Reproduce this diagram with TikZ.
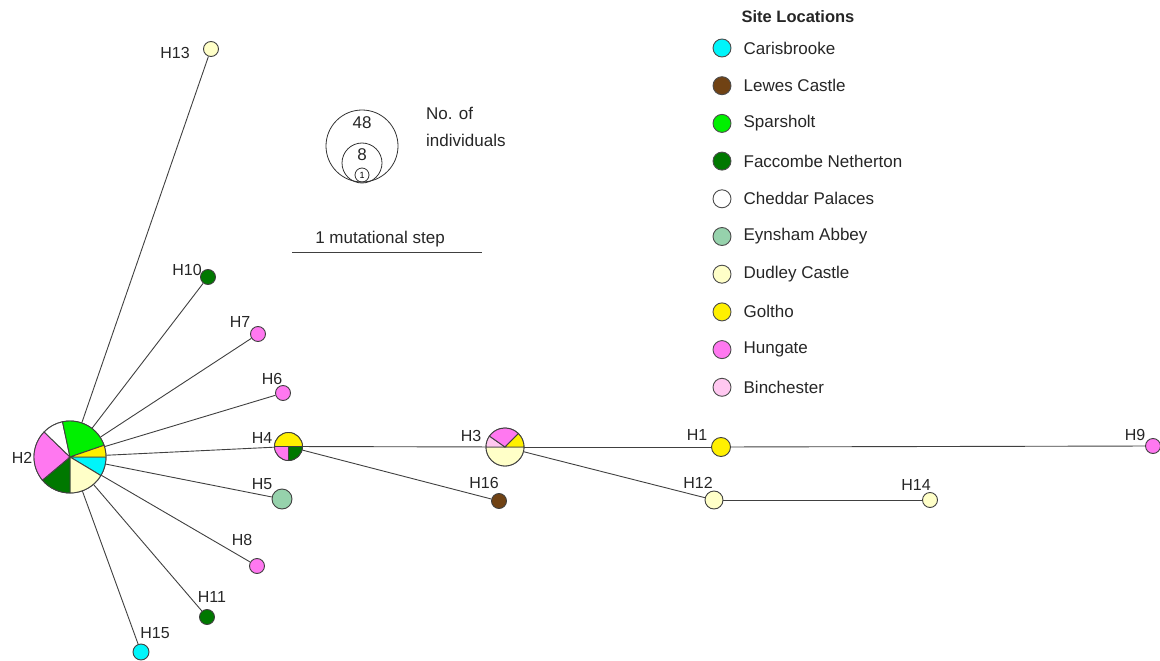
\documentclass[tikz,border=0pt]{standalone}
\usepackage{fontspec}
\setmainfont{Liberation Sans}
\usetikzlibrary{positioning}
\definecolor{carisc}{RGB}{0,245,250}
\definecolor{lewesc}{RGB}{112,66,20}
\definecolor{sparsc}{RGB}{0,240,0}
\definecolor{faccc}{RGB}{0,120,0}
\definecolor{chedc}{RGB}{255,255,255}
\definecolor{eynsc}{RGB}{150,210,172}
\definecolor{dudc}{RGB}{255,255,200}
\definecolor{goltc}{RGB}{255,240,0}
\definecolor{hungc}{RGB}{255,120,240}
\definecolor{binc}{RGB}{255,200,240}
\tikzset{
  hap/.style={circle, draw=black!75, line width=0.9pt, inner sep=0pt, minimum size=15pt},
  hapmid/.style={hap, minimum size=19pt},
  hlbl/.style={font=\fontsize{16}{19}\selectfont, text=black!85, inner sep=0pt},
  txt/.style={font=\fontsize{17}{20}\selectfont, text=black!85, inner sep=0pt},
  link/.style={line width=0.9pt, black!75},
  slice/.style={draw=black!75, line width=0.9pt},
  key/.style={circle, draw=black!70, line width=0.9pt, minimum size=18pt, inner sep=0pt},
  keylbl/.style={txt, anchor=west},
  sizering/.style={circle, draw=black!80, line width=0.8pt, inner sep=0pt}
}
% one slice of a pie: centre, start, end, radius, colour
\newcommand{\pieslice}[5]{%
  \filldraw[slice, fill=#5] (#1.center) -- ++(#2:#4) arc[start angle=#2, end angle=#3, radius=#4] -- cycle;}
\begin{document}
\begin{tikzpicture}[x=1pt, y=1pt]
\useasboundingbox (0,0) rectangle (1160,-661);

% haplotypes
\node[hap, minimum size=72pt] (H2) at (70,-457) {};
\node[hap, minimum size=28pt] (H4) at (288.5,-446.5) {};
\node[hap, minimum size=38pt] (H3) at (505,-447) {};
\node[hap, fill=dudc] (H13) at (211,-49) {};
\node[hap, fill=faccc] (H10) at (208,-277) {};
\node[hap, fill=hungc] (H7) at (258,-334) {};
\node[hap, fill=hungc] (H6) at (283,-393) {};
\node[hap, fill=eynsc, minimum size=20pt] (H5) at (282,-499) {};
\node[hap, fill=hungc] (H8) at (257,-566) {};
\node[hap, fill=faccc] (H11) at (207,-617) {};
\node[hap, fill=carisc, minimum size=16pt] (H15) at (141,-652) {};
\node[hap, fill=lewesc] (H16) at (499,-501) {};
\node[hapmid, fill=goltc] (H1) at (721,-447) {};
\node[hapmid, fill=dudc, minimum size=18pt] (H12) at (714,-500) {};
\node[hap, fill=dudc] (H14) at (930,-500) {};
\node[hap, fill=hungc] (H9) at (1153,-446) {};

% links
\foreach \h in {H13,H10,H7,H6,H4,H5,H8,H11,H15}
  \draw[link] (H2) -- (\h);
\draw[link] (H4) -- (H3);
\draw[link] (H4) -- (H16);
\draw[link] (H3) -- (H1);
\draw[link] (H3) -- (H12);
\draw[link] (H1) -- (H9);
\draw[link] (H12) -- (H14);

% pies
\pieslice{H2}{-31}{0}{36pt}{carisc}
\pieslice{H2}{-90}{-31}{36pt}{dudc}
\pieslice{H2}{-140}{-90}{36pt}{faccc}
\pieslice{H2}{136}{220}{36pt}{hungc}
\pieslice{H2}{102}{136}{36pt}{chedc}
\pieslice{H2}{19}{102}{36pt}{sparsc}
\pieslice{H2}{0}{19}{36pt}{goltc}
\pieslice{H4}{0}{180}{14pt}{goltc}
\pieslice{H4}{180}{270}{14pt}{hungc}
\pieslice{H4}{270}{360}{14pt}{faccc}
\pieslice{H3}{180}{360}{19pt}{dudc}
\pieslice{H3}{145}{180}{19pt}{binc}
\pieslice{H3}{45}{145}{19pt}{hungc}
\pieslice{H3}{0}{45}{19pt}{goltc}

% haplotype names
\node[hlbl] (tH2) at (22,-458) {H2};
\node[hlbl] (tH13) at (175,-53) {H13};
\node[hlbl] (tH10) at (187,-270) {H10};
\node[hlbl] (tH7) at (240,-322) {H7};
\node[hlbl] (tH6) at (272,-379) {H6};
\node[hlbl] (tH4) at (262,-438) {H4};
\node[hlbl] (tH5) at (262,-484) {H5};
\node[hlbl] (tH8) at (242,-540) {H8};
\node[hlbl] (tH11) at (212,-597) {H11};
\node[hlbl] (tH15) at (155,-633) {H15};
\node[hlbl] (tH3) at (471,-436) {H3};
\node[hlbl] (tH16) at (484,-483) {H16};
\node[hlbl] (tH1) at (697,-435) {H1};
\node[hlbl] (tH12) at (698,-483) {H12};
\node[hlbl] (tH14) at (916,-485) {H14};
\node[hlbl] (tH9) at (1135,-435) {H9};

% size key
\node[sizering, minimum size=72pt] (s48) at (362,-146) {};
\node[sizering, minimum size=40pt] (s8) at (362,-163) {};
\node[sizering, minimum size=14pt, font=\fontsize{9}{10}\selectfont] (s1) at (362,-175) {1};
\node[txt] (n48) at (362,-123) {48};
\node[txt] (n8) at (362,-155) {8};
\node[txt, font=\fontsize{17}{27}\selectfont, anchor=west, align=left] (nind) at (426,-127) {No. of\\individuals};

% scale bar
\node[txt] (stepl) at (380,-239) {1 mutational step};
\coordinate (bar1) at (292,-252);
\coordinate (bar2) at (482,-252);
\draw[link] (bar1) -- (bar2);

% legend
\node[txt, font=\fontsize{16.5}{19}\selectfont\bfseries] (ltitle) at (798,-17) {Site Locations};
\foreach \c/\t [count=\i from 0] in {carisc/Carisbrooke, lewesc/Lewes Castle, sparsc/Sparsholt,
    faccc/Faccombe Netherton, chedc/Cheddar Palaces, eynsc/Eynsham Abbey, dudc/Dudley Castle,
    goltc/Goltho, hungc/Hungate, binc/Binchester} {
  \node[key, fill=\c] (k\i) at (722,-48-37.7*\i) {};
  \node[keylbl, right=12pt of k\i] (kl\i) {\t};
}
\end{tikzpicture}
\end{document}
